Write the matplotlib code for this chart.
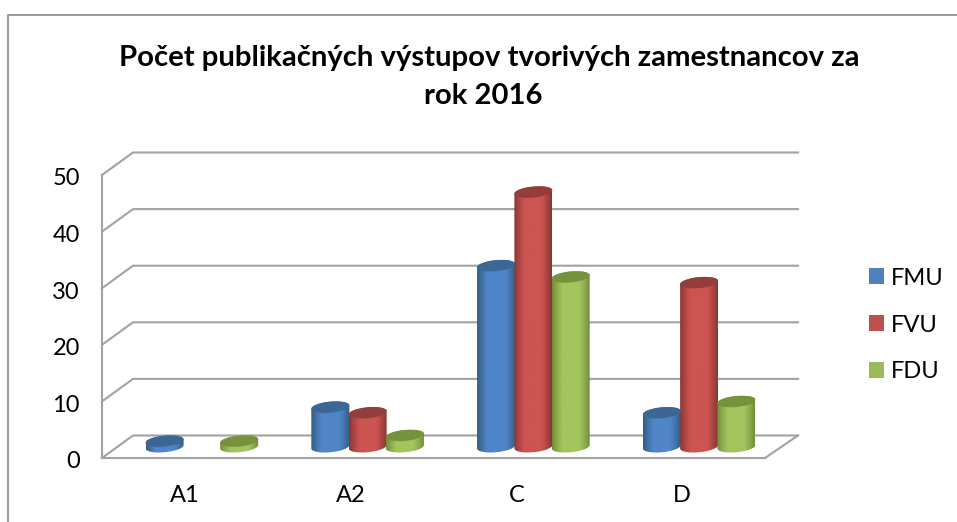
#!/usr/bin/env python3
"""Pseudo-3D cylinder chart: publication outputs per faculty, 2016."""

import matplotlib
matplotlib.use("Agg")
import matplotlib.pyplot as plt
import numpy as np
from matplotlib.colors import to_rgb
from matplotlib.lines import Line2D
from matplotlib.patches import Patch, Polygon
from matplotlib.transforms import ScaledTranslation

plt.rcParams["font.family"] = ["Lato", "DejaVu Sans"]

categories = ["A1", "A2", "C", "D"]
fmu = [1, 7, 32, 6]
fvu = [0, 6, 45, 29]
fdu = [1, 2, 30, 8]
y_ticks = [0, 10, 20, 30, 40, 50]
title_lines = ["Počet publikačných výstupov tvorivých zamestnancov za", "rok 2016"]

W, H = 957, 522
AX_L, AX_R, AX_B, AX_T = 102, 765, 458, 175
PX_X = 4 / (AX_R - AX_L)      # data units per pixel
PX_Y = 50 / (AX_B - AX_T)
DEPTH_X = 31 * PX_X
DEPTH_Y = 22.5 * PX_Y
GRID = "#a2a2a2"

# name, values, (edge, middle, top)
SERIES = [
    ("FMU", fmu, ("#33597f", "#4f86c9", "#3c6694"), "#4f81bd"),
    ("FVU", fvu, ("#853634", "#cc5451", "#933e3c"), "#c0504d"),
    ("FDU", fdu, ("#6f8a38", "#a3c55d", "#76923c"), "#9bbb59"),
]


def px_x(p):
    return (p - AX_L) * PX_X


def cylinder(ax, xc, value, colors):
    edge, mid, top = [np.array(to_rgb(c)) for c in colors]
    a, b, tilt = 19 * PX_X, 5.5 * PX_Y, 0.09
    y0 = DEPTH_Y / 2
    y1 = y0 + value

    def arc(yc, t):
        ca = np.cos(t)
        return np.column_stack([xc + a * ca, yc + b * np.sin(t) + tilt * 19 * ca * PX_Y])

    body = np.vstack([arc(y0, np.linspace(np.pi, 2 * np.pi, 40)),
                      arc(y1, np.linspace(0, np.pi, 40))])
    clip = Polygon(body, closed=True, transform=ax.transData, fc="none", ec="none")
    ax.add_patch(clip)

    # horizontal shading, dark rim and flat lit middle
    u = np.linspace(-1, 1, 80)
    w = np.clip((1 - np.abs(u)) / 0.55, 0, 1) ** 0.8
    grad = edge[None, :] * (1 - w[:, None]) + mid[None, :] * w[:, None]
    ylo, yhi = body[:, 1].min(), body[:, 1].max()
    im = ax.imshow(grad[None, :, :], extent=[xc - a, xc + a, ylo, yhi], aspect="auto",
                   interpolation="bilinear", zorder=3)
    im.set_clip_path(clip)

    cap = arc(y1, np.linspace(0, 2 * np.pi, 80))
    ax.fill(cap[:, 0], cap[:, 1], color=top, lw=0, zorder=4)


fig = plt.figure(figsize=(W / 100, H / 100), dpi=100)
ax = fig.add_axes([AX_L / W, 1 - AX_B / H, (AX_R - AX_L) / W, (AX_B - AX_T) / H])

# side wall and back wall lines
back_r = px_x(798)
for v in y_ticks:
    ax.plot([0, DEPTH_X, back_r], [v, v + DEPTH_Y, v + DEPTH_Y],
            color=GRID, lw=1.5, clip_on=False, zorder=1, solid_joinstyle="miter")
ax.plot([4, back_r], [0, DEPTH_Y], color=GRID, lw=1.5, clip_on=False, zorder=1)

centers = np.arange(len(categories)) + 0.5
step = 37.3 * PX_X
for i, (name, values, colors, _) in enumerate(SERIES):
    for c, val in zip(centers, values):
        if val > 0:
            cylinder(ax, c + DEPTH_X / 2 + 1.5 * PX_X + (i - 1) * step, val, colors)

ax.set_xlim(0, 4)
ax.set_ylim(0, 50)
ax.set_xticks(centers)
ax.set_xticklabels(categories)
ax.set_yticks(y_ticks)
ax.tick_params(axis="both", length=0, labelsize=17, labelcolor="black")
ax.tick_params(axis="x", pad=19.5)
ax.tick_params(axis="y", pad=16)
# labels sit a little under their gridline in the original
nudge = ScaledTranslation(0, -4 / 100, fig.dpi_scale_trans)
for lab in ax.get_yticklabels():
    lab.set_verticalalignment("center")
    lab.set_transform(lab.get_transform() + nudge)
for side in ("top", "right"):
    ax.spines[side].set_visible(False)
for side in ("left", "bottom"):
    ax.spines[side].set_color(GRID)
    ax.spines[side].set_linewidth(1.5)
ax.patch.set_alpha(0)

fig.text(489 / W, 1 - 58 / H, title_lines[0], ha="center", va="center",
         fontsize=21.1, fontweight="bold")
fig.text(483 / W, 1 - 96 / H, title_lines[1], ha="center", va="center",
         fontsize=21.1, fontweight="bold")

handles = [Patch(fc=s[3], ec="none", label=s[0]) for s in SERIES]
fig.legend(handles=handles, loc="center left", bbox_to_anchor=(850 / W, 1 - 325 / H),
           frameon=False, fontsize=17, handlelength=0.64, handleheight=0.64,
           handletextpad=0.3, labelspacing=1.1, borderpad=0.3)

# chart frame, cut off on the right and at the bottom
fig.add_artist(Line2D([8 / W, 8 / W, 1], [0, 1 - 15 / H, 1 - 15 / H],
                      transform=fig.transFigure, color="#9a9a9a", lw=1.4))

fig.savefig("out.png", dpi=100)
